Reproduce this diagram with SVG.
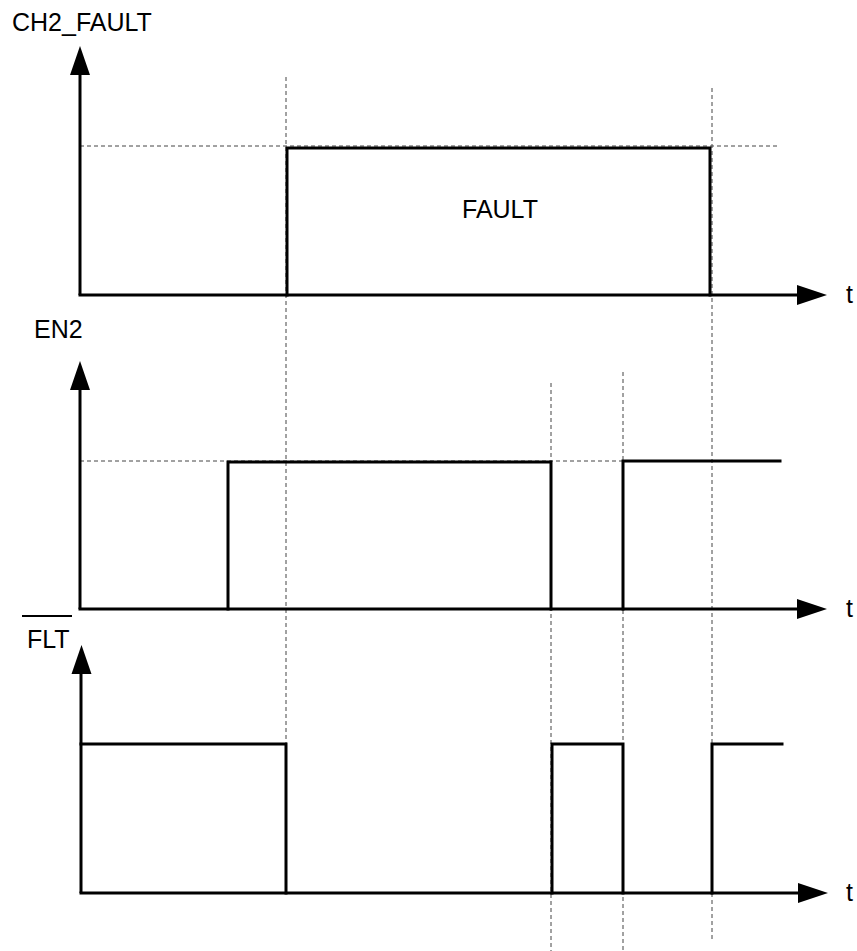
<svg xmlns="http://www.w3.org/2000/svg" xmlns:xlink="http://www.w3.org/1999/xlink" width="857" height="951" viewBox="0 0 857 951">
<style>
.lbl{font-family:"Liberation Sans",Arial,sans-serif;font-size:25px;fill:#000}
.ax{stroke:#000;stroke-width:3;fill:none}
.sig{stroke:#000;stroke-width:3;fill:none;stroke-linejoin:miter;stroke-linecap:square}
.dash{stroke:#444;stroke-width:1;fill:none;stroke-dasharray:4 3}
</style>
<defs>
<polygon id="arrUp" points="0,0 10,29 -10,29" fill="#000"/>
<polygon id="arrRight" points="0,0 -30,-10 -30,10" fill="#000"/>
</defs>
<rect width="857" height="951" fill="#fff"/>
<g id="guides">
<line class="dash" x1="80" y1="146" x2="780" y2="146"/>
<line class="dash" x1="80" y1="461" x2="780" y2="461"/>
<line class="dash" x1="286" y1="77" x2="286" y2="744"/>
<line class="dash" x1="712" y1="88" x2="712" y2="939"/>
<line class="dash" x1="551" y1="383" x2="551" y2="951"/>
<line class="dash" x1="623" y1="372" x2="623" y2="951"/>
</g>
<g id="ch2_fault">
<text class="lbl" x="12" y="31">CH2_FAULT</text>
<line class="ax" x1="80" y1="70" x2="80" y2="295"/>
<line class="ax" x1="78.5" y1="295" x2="805" y2="295"/>
<use xlink:href="#arrUp" x="80" y="46"/>
<use xlink:href="#arrRight" x="827" y="295"/>
<text class="lbl" x="846" y="303">t</text>
<polyline class="sig" points="287,295 287,148 710,148 710,295"/>
<text class="lbl" x="462" y="218">FAULT</text>
</g>
<g id="en2">
<text class="lbl" x="34" y="338">EN2</text>
<line class="ax" x1="80" y1="385" x2="80" y2="609"/>
<line class="ax" x1="78.5" y1="609" x2="805" y2="609"/>
<use xlink:href="#arrUp" x="80" y="361"/>
<use xlink:href="#arrRight" x="827" y="609"/>
<text class="lbl" x="846" y="617">t</text>
<polyline class="sig" points="228,609 228,462 551,462 551,609"/>
<polyline class="sig" points="623,609 623,461 780,461"/>
</g>
<g id="flt">
<text class="lbl" x="27" y="648">FLT</text>
<line x1="22" y1="616" x2="72" y2="616" stroke="#000" stroke-width="2"/>
<line class="ax" x1="81" y1="668" x2="81" y2="893"/>
<line class="ax" x1="79.5" y1="893" x2="806" y2="893"/>
<use xlink:href="#arrUp" x="81.5" y="645"/>
<use xlink:href="#arrRight" x="828" y="893"/>
<text class="lbl" x="846" y="901">t</text>
<polyline class="sig" points="81,744 286,744 286,893"/>
<polyline class="sig" points="552,893 552,744 623,744 623,893"/>
<polyline class="sig" points="712,893 712,744 782,744"/>
</g>
</svg>
